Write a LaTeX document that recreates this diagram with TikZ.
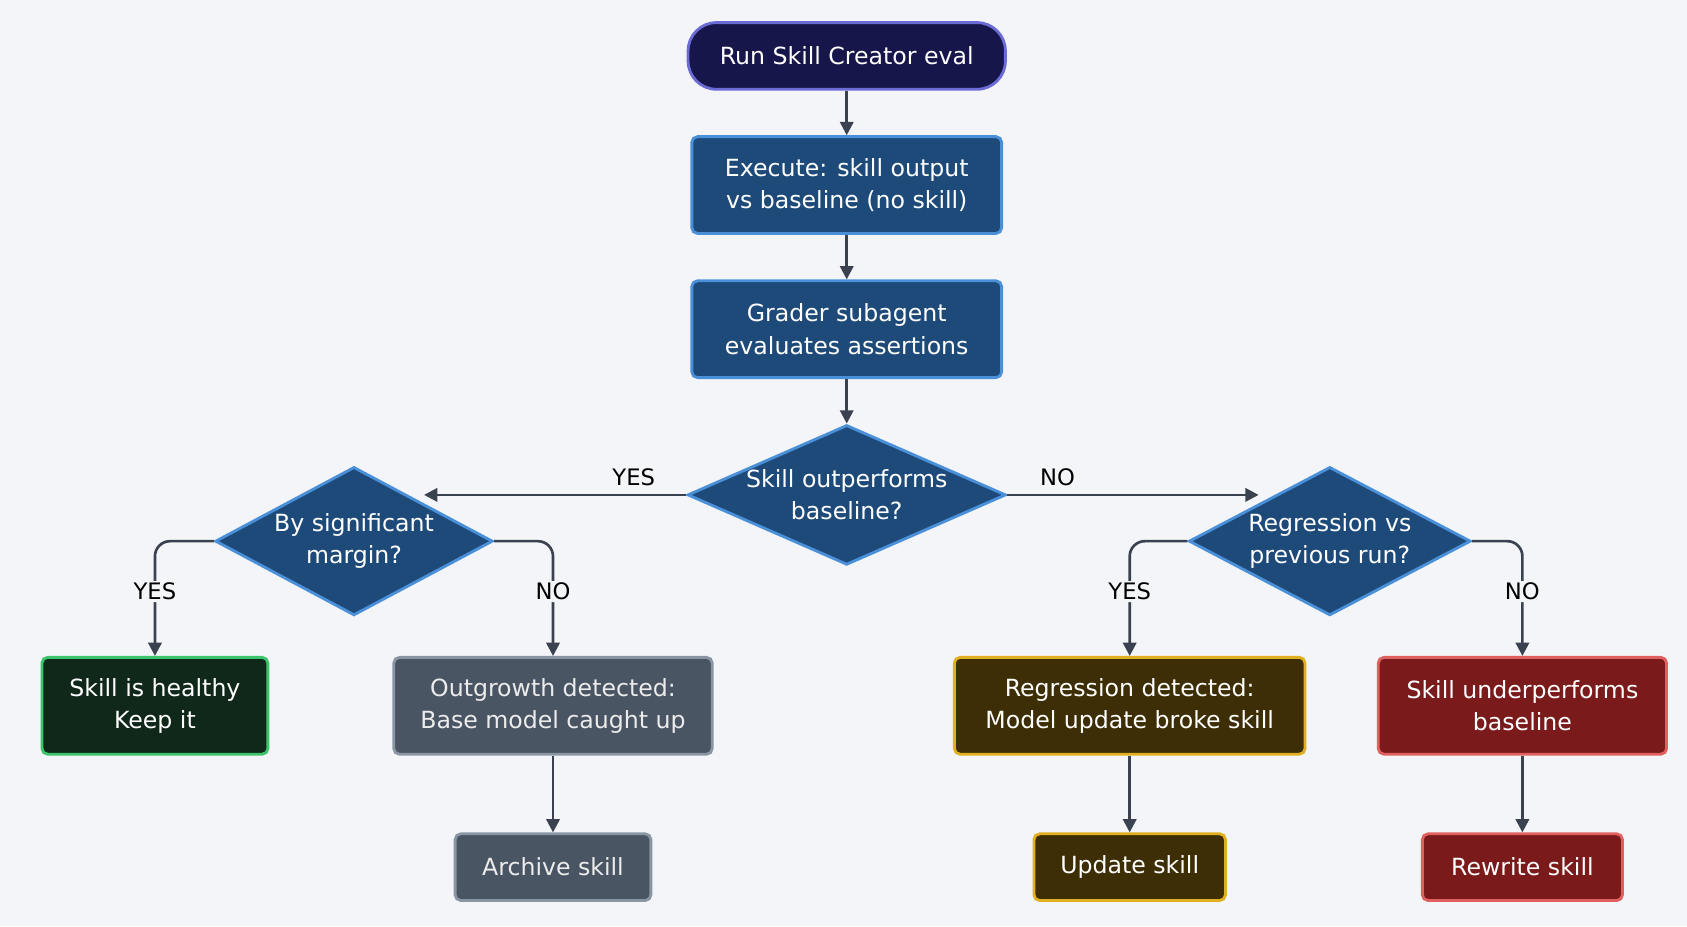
\documentclass[tikz,border=0pt]{standalone}
\usepackage{fontspec}
\setmainfont{DejaVu Sans}
\usetikzlibrary{shapes.geometric}
\usetikzlibrary{arrows.meta}
\usetikzlibrary{positioning}
\usetikzlibrary{calc}
\definecolor{bgc}{HTML}{F4F5F8}
\definecolor{navy}{HTML}{16164A}
\definecolor{navyb}{HTML}{6B6BD6}
\definecolor{stepc}{HTML}{1E4A7A}
\definecolor{stepb}{HTML}{4A90D9}
\definecolor{okc}{HTML}{10281A}
\definecolor{okb}{HTML}{3CC46A}
\definecolor{grc}{HTML}{4A5563}
\definecolor{grb}{HTML}{8A95A3}
\definecolor{yec}{HTML}{3D2E05}
\definecolor{yeb}{HTML}{E0B020}
\definecolor{rec}{HTML}{7A1A1A}
\definecolor{reb}{HTML}{E06060}
\definecolor{linec}{HTML}{3A4250}
\begin{document}
\begin{tikzpicture}[x=0.02cm,y=-0.02cm]
\tikzstyle{box}=[rectangle,rounded corners=3pt,line width=1.5pt,text=white,align=center,
  font=\fontsize{12.5}{17}\selectfont,inner sep=2pt]
\tikzstyle{step node}=[box,fill=stepc,draw=stepb,minimum width=5.76cm,minimum height=1.8cm]
\tikzstyle{dec node}=[diamond,fill=stepc,draw=stepb,line width=1.5pt,inner sep=0pt]
\tikzset{
  dec text/.style = {text=white,align=center,font=\fontsize{12.5}{17}\selectfont,inner sep=0pt},
  lbl/.style = {fill=bgc,text=black,font=\fontsize{12}{14}\selectfont,inner sep=1pt},
  arr/.style = {draw=linec,line width=1.4pt,-{Triangle[length=7pt,width=7pt]},rounded corners=8pt}
}
\fill[bgc] (0,0) rectangle (1568,861);
\useasboundingbox (0,0) rectangle (1568,861);

    \node[box,fill=navy,draw=navyb,rounded corners=15pt,minimum width=5.9cm,minimum height=1.24cm] (run) at (787,52) {Run Skill Creator eval};
    \node[step node] (exec) at (787,172) {Execute: skill output\\vs baseline (no skill)};
    \node[step node] (grade) at (787,306) {Grader subagent\\evaluates assertions};
    \node[dec node,minimum width=5.92cm,minimum height=2.6cm,
      label={[dec text]center:Skill outperforms\\baseline?}] (outp) at (787,460) {};
    \node[dec node,minimum width=5.16cm,minimum height=2.76cm,
      label={[dec text]center:By significant\\margin?}] (marg) at (329,503) {};
    \node[dec node,minimum width=5.24cm,minimum height=2.76cm,
      label={[dec text]center:Regression vs\\previous run?}] (regr) at (1236,503) {};
    %%%%%%%%%%%%%%%%%%%%%%%%%%%%%%%%%%
    \node[box,fill=okc,draw=okb,minimum width=4.2cm,minimum height=1.8cm] (healthy) at (144,656) {Skill is healthy\\Keep it};
    \node[box,fill=grc,draw=grb,text=white!85!gray,minimum width=5.92cm,minimum height=1.8cm] (outg) at (514,656) {Outgrowth detected:\\Base model caught up};
    \node[box,fill=grc,draw=grb,text=white!85!gray,minimum width=3.64cm,minimum height=1.24cm] (arch) at (514,806) {Archive skill};
    \node[box,fill=yec,draw=yeb,minimum width=6.52cm,minimum height=1.8cm] (regd) at (1050,656) {Regression detected:\\Model update broke skill};
    \node[box,fill=yec,draw=yeb,minimum width=3.56cm,minimum height=1.24cm] (upd) at (1050,806) {Update skill};
    \node[box,fill=rec,draw=reb,minimum width=5.36cm,minimum height=1.8cm] (under) at (1415,656) {Skill underperforms\\baseline};
    \node[box,fill=rec,draw=reb,minimum width=3.72cm,minimum height=1.24cm] (rewr) at (1415,806) {Rewrite skill};

    \path[arr] (run) -- (exec);
    \path[arr] (exec) -- (grade);
    \path[arr] (grade) -- (outp);
    \path[arr] (outp.west) -- node[lbl,above=3pt,pos=0.2] {YES} (outp.west -| marg.north east);
    \path[arr] (outp.east) -- node[lbl,above=3pt,pos=0.2] {NO} (outp.east -| regr.north west);
    \path[arr] (marg.west) -| node[lbl,pos=0.72] {YES} (healthy.north);
    \path[arr] (marg.east) -| node[lbl,pos=0.72] {NO} (outg.north);
    \path[arr] (regr.west) -| node[lbl,pos=0.72] {YES} (regd.north);
    \path[arr] (regr.east) -| node[lbl,pos=0.72] {NO} (under.north);
    \path[arr] (outg) -- (arch);
    \path[arr] (regd) -- (upd);
    \path[arr] (under) -- (rewr);
\end{tikzpicture}
\end{document}
